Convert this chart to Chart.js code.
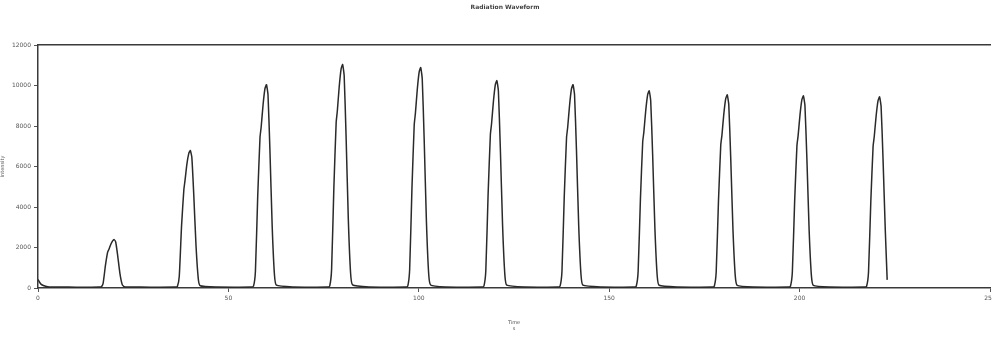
<!DOCTYPE html>
<html>
<head>
<meta charset="utf-8">
<script src="https://cdn.jsdelivr.net/npm/chart.js@4.4.1/dist/chart.umd.min.js"></script>
<style>
  html, body { margin: 0; padding: 0; background: #fff; }
  #wrap { width: 992px; height: 338px; }
</style>
</head>
<body>
<div id="wrap"><canvas id="waveform"></canvas></div>
<script>
// values (time axis units, intensity counts)
const times = [
  0, 0.5, 1, 2, 3, 8, 12, 16,
  16.6, 17.1, 17.7, 18.3, 18.6, 19.1, 19.6, 20, 20.4, 20.9, 21.5, 22.1, 22.6,
  27, 32, 36,
  36.6, 37.1, 37.7, 38.3, 38.6, 39.1, 39.6, 40, 40.4, 40.9, 41.5, 42.1, 42.6,
  47, 52, 56,
  56.6, 57.1, 57.7, 58.3, 58.6, 59.1, 59.6, 60, 60.4, 60.9, 61.5, 62.1, 62.6,
  67, 72, 76,
  76.6, 77.1, 77.7, 78.3, 78.6, 79.1, 79.6, 80, 80.4, 80.9, 81.5, 82.1, 82.6,
  87, 92, 96.5,
  97.1, 97.6, 98.2, 98.8, 99.1, 99.6, 100.1, 100.5, 100.9, 101.4, 102, 102.6, 103.1,
  107, 112, 116.5,
  117.1, 117.6, 118.2, 118.8, 119.1, 119.6, 120.1, 120.5, 120.9, 121.4, 122, 122.6, 123.1,
  128, 133, 136.5,
  137.1, 137.6, 138.2, 138.8, 139.1, 139.6, 140.1, 140.5, 140.9, 141.4, 142, 142.6, 143.1,
  148, 153, 156.5,
  157.1, 157.6, 158.2, 158.8, 159.1, 159.6, 160.1, 160.5, 160.9, 161.4, 162, 162.6, 163.1,
  168, 173, 177,
  177.6, 178.1, 178.7, 179.3, 179.6, 180.1, 180.6, 181, 181.4, 181.9, 182.5, 183.1, 183.6,
  188, 193, 197,
  197.6, 198.1, 198.7, 199.3, 199.6, 200.1, 200.6, 201, 201.4, 201.9, 202.5, 203.1, 203.6,
  208, 213, 217,
  217.6, 218.1, 218.7, 219.3, 219.6, 220.1, 220.6, 221, 221.4, 221.9, 222.5, 223
];
const signal = [
  420, 260, 160, 90, 55, 45, 40, 45,
  55, 230, 1100, 1780, 1900, 2150, 2330, 2390, 2270, 1640, 740, 180, 65,
  45, 40, 45,
  75, 580, 3080, 4850, 5300, 6120, 6650, 6790, 6450, 4630, 2070, 440, 110,
  45, 40, 45,
  90, 840, 4540, 7440, 7940, 9040, 9840, 10040, 9540, 6840, 3040, 640, 140,
  45, 40, 45,
  95, 920, 4990, 8180, 8730, 9940, 10820, 11040, 10490, 7520, 3340, 700, 150,
  45, 40, 45,
  94, 910, 4920, 8070, 8610, 9800, 10670, 10890, 10350, 7420, 3300, 690, 148,
  45, 40, 45,
  91, 860, 4630, 7590, 8100, 9220, 10040, 10240, 9730, 6980, 3100, 650, 142,
  45, 40, 45,
  90, 840, 4540, 7440, 7940, 9040, 9840, 10040, 9540, 6840, 3040, 640, 140,
  45, 40, 45,
  88, 820, 4400, 7220, 7700, 8770, 9550, 9740, 9250, 6640, 2950, 620, 137,
  45, 40, 45,
  88, 800, 4320, 7070, 7540, 8590, 9350, 9540, 9060, 6500, 2890, 610, 135,
  45, 40, 45,
  87, 800, 4290, 7030, 7500, 8540, 9300, 9490, 9020, 6470, 2880, 610, 134,
  45, 40, 45,
  87, 790, 4270, 7000, 7470, 8500, 9250, 9440, 8970, 6430, 2860, 400
];
const xTicks = [0, 50, 100, 150, 200, 250];
const yTicks = [0, 2000, 4000, 6000, 8000, 10000, 12000];

const points = times.map((t, i) => ({ x: t, y: signal[i] }));

// title drawn by hand so the plot box can sit at fixed pixels
const titlePlugin = {
  id: 'plotTitle',
  afterDraw(chart) {
    const ctx = chart.ctx;
    ctx.save();
    ctx.font = 'bold 6px "DejaVu Sans"';
    ctx.fillStyle = '#444';
    ctx.textAlign = 'center';
    ctx.textBaseline = 'middle';
    ctx.fillText('Radiation Waveform', 505, 7);
    ctx.restore();
  }
};

const tickFont = { family: 'DejaVu Sans', size: 6 };

new Chart(document.getElementById('waveform'), {
  type: 'line',
  data: {
    datasets: [{
      data: points,
      borderColor: '#2a2a2a',
      borderWidth: 1.5,
      pointRadius: 0,
      tension: 0.15,
      fill: false
    }]
  },
  options: {
    responsive: true,
    maintainAspectRatio: false,
    animation: false,
    layout: { padding: { left: 0, right: 2, top: 0, bottom: 0 } },
    plugins: {
      legend: { display: false },
      tooltip: { enabled: false }
    },
    scales: {
      x: {
        type: 'linear',
        min: 0,
        max: 250,
        afterBuildTicks: (s) => { s.ticks = xTicks.map(v => ({ value: v })); },
        afterFit: (s) => { s.height = 50; s.paddingRight = 0; s.paddingLeft = 0; },
        ticks: { font: tickFont, color: '#555', maxRotation: 0, padding: 3 },
        grid: { drawOnChartArea: false, tickLength: 4, color: '#555' },
        border: { color: '#3a3a3a', width: 1.5 },
        title: {
          display: true,
          text: ['Time', 's'],
          font: { family: 'DejaVu Sans', size: 5 },
          color: '#555',
          padding: { top: 0, bottom: 6 }
        }
      },
      xTop: {
        type: 'linear',
        position: 'top',
        min: 0,
        max: 250,
        afterFit: (s) => { s.height = 45; s.paddingRight = 0; s.paddingLeft = 0; },
        ticks: { display: false },
        grid: { drawOnChartArea: false, drawTicks: false },
        border: { color: '#3a3a3a', width: 1.5 }
      },
      y: {
        min: 0,
        max: 12000,
        afterBuildTicks: (s) => { s.ticks = yTicks.map(v => ({ value: v })); },
        afterFit: (s) => { s.width = 38; s.paddingTop = 0; s.paddingBottom = 0; },
        ticks: {
          font: tickFont,
          color: '#555',
          padding: 3,
          callback: (v) => String(v)
        },
        grid: { drawOnChartArea: false, tickLength: 4, color: '#555' },
        border: { color: '#3a3a3a', width: 1.5 },
        title: {
          display: true,
          text: 'Intensity',
          font: { family: 'DejaVu Sans', size: 5 },
          color: '#555',
          padding: { top: 0, bottom: 4 }
        }
      }
    }
  },
  plugins: [titlePlugin]
});
</script>
</body>
</html>
